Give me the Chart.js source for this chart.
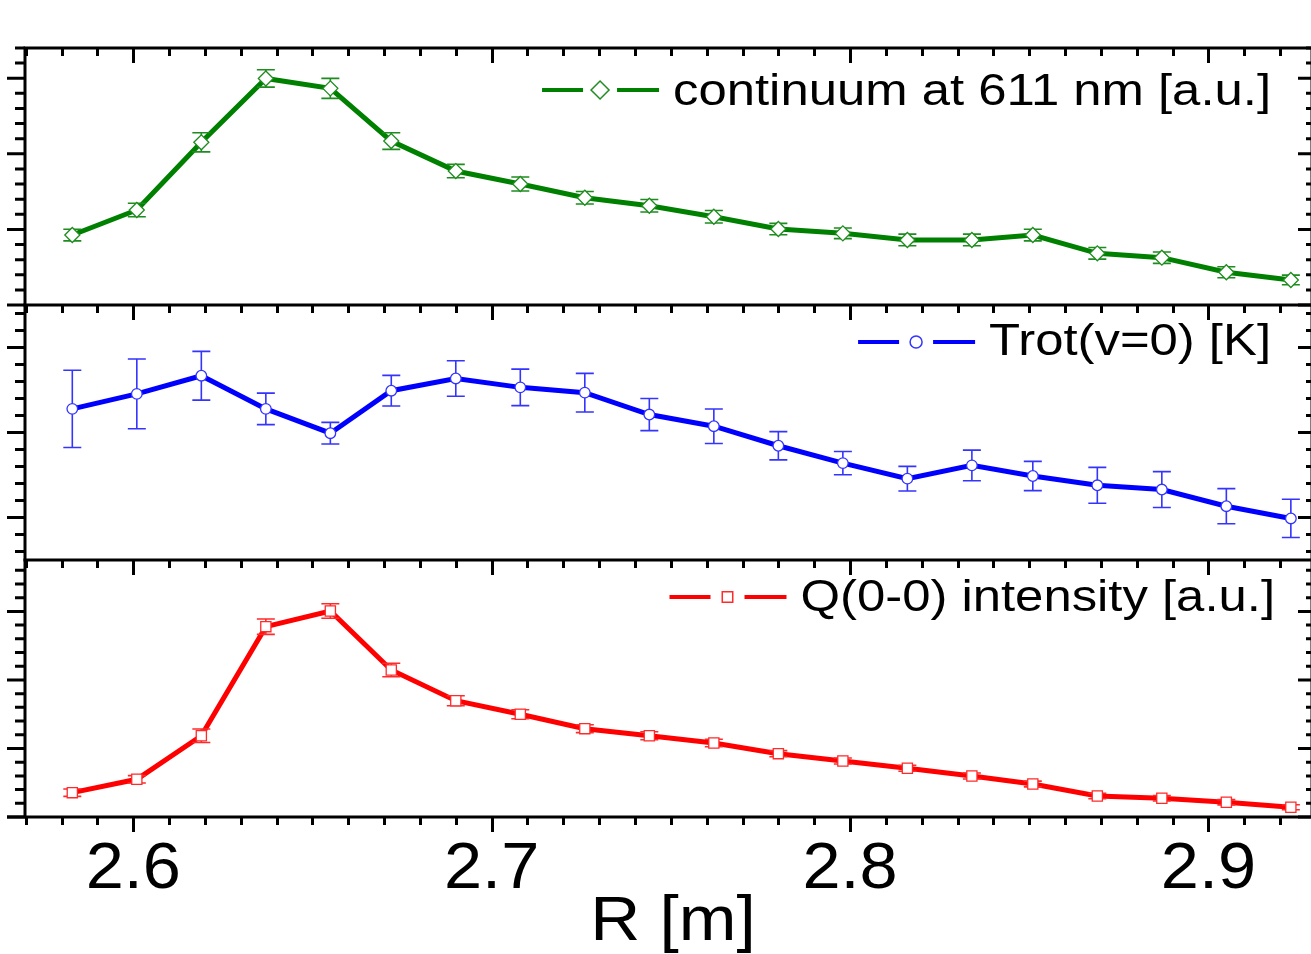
<!DOCTYPE html>
<html>
<head>
<meta charset="utf-8">
<script src="https://cdn.jsdelivr.net/npm/chart.js@4/dist/chart.umd.min.js"></script>
<style>
  html, body { margin: 0; padding: 0; background: #ffffff; overflow: hidden; width: 1311px; height: 954px; }
  canvas { position: absolute; left: 0; top: 0; }
</style>
</head>
<body>
<canvas id="c1" width="1320" height="954"></canvas>
<canvas id="c2" width="1320" height="954"></canvas>
<canvas id="c3" width="1320" height="954"></canvas>
<script>
// ---- data ----
const R = [2.583, 2.601, 2.619, 2.637, 2.655, 2.672, 2.690, 2.708, 2.726, 2.744,
           2.762, 2.780, 2.798, 2.816, 2.834, 2.851, 2.869, 2.887, 2.905, 2.923];

const continuum    = [0.926, 1.257, 2.152, 2.997, 2.866, 2.169, 1.772, 1.601, 1.419, 1.313,
                      1.168, 1.005, 0.948, 0.860, 0.860, 0.926, 0.684, 0.626, 0.433, 0.331];
const continuumErr = [0.077, 0.089, 0.126, 0.115, 0.132, 0.110, 0.089, 0.093, 0.083, 0.083,
                      0.083, 0.075, 0.070, 0.077, 0.077, 0.077, 0.077, 0.075, 0.073, 0.064];

const trot    = [2.278, 2.454, 2.668, 2.278, 1.992, 2.492, 2.636, 2.531, 2.469, 2.211,
                 2.074, 1.844, 1.640, 1.457, 1.613, 1.488, 1.379, 1.329, 1.133, 0.989];
const trotErr = [0.455, 0.410, 0.287, 0.185, 0.127, 0.180, 0.209, 0.215, 0.227, 0.189,
                 0.203, 0.166, 0.137, 0.145, 0.180, 0.172, 0.211, 0.211, 0.207, 0.225];

const q00    = [0.355, 0.550, 1.186, 2.777, 3.006, 2.145, 1.697, 1.499, 1.289, 1.186,
                1.080, 0.924, 0.817, 0.711, 0.598, 0.482, 0.306, 0.273, 0.215, 0.142];
const q00Err = [0.054, 0.054, 0.099, 0.112, 0.105, 0.098, 0.073, 0.066, 0.058, 0.058,
                0.054, 0.044, 0.044, 0.044, 0.044, 0.042, 0.040, 0.040, 0.038, 0.036];

const xTickValues = [2.6, 2.7, 2.8, 2.9];
const xTickLabels = ['2.6', '2.7', '2.8', '2.9'];
const xTitle = 'R [m]';
const legendLabels = ['continuum at 611 nm [a.u.]', 'Trot(v=0) [K]', 'Q(0-0) intensity [a.u.]'];

// ---- helpers ----
const FONT = '"Liberation Sans", Arial, Helvetica, sans-serif';
function drawText(ctx, text, x, y, size, align, sx) {
  ctx.save();
  ctx.font = size + 'px ' + FONT;
  const w = ctx.measureText(text).width * sx;
  const x0 = align === 'center' ? x - w / 2 : (align === 'right' ? x - w : x);
  ctx.translate(x0, y);
  ctx.scale(sx, 1);
  ctx.textAlign = 'left';
  ctx.textBaseline = 'alphabetic';
  ctx.fillStyle = '#000';
  ctx.fillText(text, 0, 0);
  ctx.restore();
  return x0;
}

const errorBarPlugin = {
  id: 'errorBars',
  beforeDatasetDraw(chart, args) {
    const ds = chart.data.datasets[args.index];
    if (!ds.errors) return;
    const { ctx, scales: { x, y } } = chart;
    ctx.save();
    ctx.strokeStyle = ds.errorColor;
    ctx.lineWidth = 1.6;
    ds.data.forEach((p, i) => {
      const px = x.getPixelForValue(p.x);
      const yt = y.getPixelForValue(p.y + ds.errors[i]);
      const yb = y.getPixelForValue(p.y - ds.errors[i]);
      ctx.beginPath();
      ctx.moveTo(px, yt); ctx.lineTo(px, yb);
      ctx.moveTo(px - 9, yt); ctx.lineTo(px + 9, yt);
      ctx.moveTo(px - 9, yb); ctx.lineTo(px + 9, yb);
      ctx.stroke();
    });
    ctx.restore();
  }
};

const framePlugin = {
  id: 'frame',
  afterDraw(chart, args, opts) {
    const { ctx, chartArea: a, scales: { x, y } } = chart;
    ctx.save();
    ctx.strokeStyle = '#000';
    ctx.lineCap = 'butt';
    // frame
    ctx.lineWidth = 3;
    ctx.beginPath();
    ctx.moveTo(a.left, a.top); ctx.lineTo(a.right + 2, a.top);
    ctx.moveTo(a.left, a.top - 1.5); ctx.lineTo(a.left, a.bottom + 1.5);
    ctx.moveTo(a.right, a.top); ctx.lineTo(a.right, a.bottom);
    if (opts.bottomAxis) { ctx.moveTo(a.left - 18, a.bottom); ctx.lineTo(a.right + 2, a.bottom); }
    ctx.stroke();

    // x ticks (pointing down)
    const drawXTicks = (yy) => {
      const k0 = Math.ceil(x.min * 100 - 1e-6), k1 = Math.floor(x.max * 100 + 1e-6);
      ctx.beginPath();
      for (let k = k0; k <= k1; k++) {
        const px = Math.round(x.getPixelForValue(k / 100)) + 0.5;
        const len = (k % 10 === 0) ? 15 : 8;
        ctx.moveTo(px, yy); ctx.lineTo(px, yy + len);
      }
      ctx.stroke();
    };
    ctx.lineWidth = 3;
    drawXTicks(a.top);
    if (opts.bottomAxis) drawXTicks(a.bottom);

    // y ticks: left outward, right inward
    const s0 = Math.ceil(y.min / 0.2 - 1e-6), s1 = Math.floor(y.max / 0.2 + 1e-6);
    ctx.beginPath();
    for (let k = s0; k <= s1; k++) {
      const py = y.getPixelForValue(k * 0.2);
      const major = k % 5 === 0;
      ctx.moveTo(a.left, py); ctx.lineTo(a.left - (major ? 18 : 10), py);
      ctx.moveTo(a.right, py); ctx.lineTo(a.right - (major ? 14 : 6), py);
    }
    ctx.stroke();

    // bottom axis labels
    if (opts.bottomAxis) {
      xTickValues.forEach((v, i) => {
        drawText(ctx, xTickLabels[i], x.getPixelForValue(v), 888, 64, 'center', 1.07);
      });
      drawText(ctx, xTitle, 673, 940, 63, 'center', 1.1);
    }

    // legend: line - marker - line  text
    const L = opts.legend;
    const SX = 1.155;
    ctx.font = '44px ' + FONT;
    const tw = ctx.measureText(L.text).width * SX;
    const tx = L.right - tw;
    drawText(ctx, L.text, tx, L.baseline, 44, 'left', SX);
    ctx.strokeStyle = L.color;
    ctx.lineWidth = 4;
    ctx.beginPath();
    ctx.moveTo(tx - 131, L.lineY); ctx.lineTo(tx - 90, L.lineY);
    ctx.moveTo(tx - 56, L.lineY); ctx.lineTo(tx - 14, L.lineY);
    ctx.stroke();
    ctx.fillStyle = '#ffffff';
    ctx.strokeStyle = L.markerColor;
    ctx.lineWidth = 1.5;
    Chart.helpers.drawPoint(ctx, { pointStyle: L.pointStyle, radius: L.radius, rotation: 0, borderWidth: 1.5 }, tx - 73, L.lineY);
    ctx.restore();
  }
};

function makePanel(id, cfg) {
  const pts = R.map((r, i) => ({ x: r, y: cfg.values[i] }));
  return new Chart(document.getElementById(id), {
    type: 'line',
    data: {
      datasets: [
        {
          label: cfg.label + ' markers',
          data: pts,
          order: 0,
          showLine: false,
          pointStyle: cfg.pointStyle,
          pointRadius: cfg.radius,
          pointBackgroundColor: '#ffffff',
          pointBorderColor: cfg.markerColor,
          pointBorderWidth: 1.3,
          errors: cfg.errors,
          errorColor: cfg.markerColor
        },
        {
          label: cfg.label,
          data: pts,
          order: 1,
          borderColor: cfg.color,
          borderWidth: 5,
          pointRadius: 0,
          tension: 0,
          fill: false
        }
      ]
    },
    options: {
      responsive: false,
      animation: false,
      events: [],
      layout: { autoPadding: false, padding: { left: 25, right: 8, top: cfg.top, bottom: 954 - cfg.bottom } },
      scales: {
        x: { type: 'linear', min: 2.5698, max: 2.9289, display: false },
        y: { type: 'linear', min: cfg.ymin, max: cfg.ymax, display: false }
      },
      plugins: {
        legend: { display: false },
        tooltip: { enabled: false },
        frame: {
          bottomAxis: cfg.bottomAxis,
          legend: {
            text: cfg.label, right: cfg.legendRight, baseline: cfg.legendBaseline, lineY: cfg.legendLineY,
            color: cfg.color, markerColor: cfg.markerColor, pointStyle: cfg.pointStyle, radius: cfg.legendRadius
          }
        }
      }
    },
    plugins: [errorBarPlugin, framePlugin]
  });
}

makePanel('c1', {
  label: legendLabels[0], values: continuum, errors: continuumErr,
  color: '#008000', markerColor: '#1e8c1e', pointStyle: 'rectRot', radius: 7.5, legendRadius: 9,
  top: 48, bottom: 305, ymin: 0, ymax: 3.4, bottomAxis: false,
  legendRight: 1271, legendBaseline: 105, legendLineY: 90
});
makePanel('c2', {
  label: legendLabels[1], values: trot, errors: trotErr,
  color: '#0000ff', markerColor: '#3434ff', pointStyle: 'circle', radius: 5.3, legendRadius: 6,
  top: 305, bottom: 560, ymin: 0.5, ymax: 3.5, bottomAxis: false,
  legendRight: 1271, legendBaseline: 355, legendLineY: 342
});
makePanel('c3', {
  label: legendLabels[2], values: q00, errors: q00Err,
  color: '#ff0000', markerColor: '#ff2a2a', pointStyle: 'rect', radius: 7.2, legendRadius: 7.4,
  top: 560, bottom: 817, ymin: 0, ymax: 3.75, bottomAxis: true,
  legendRight: 1275, legendBaseline: 611, legendLineY: 597
});
</script>
</body>
</html>
